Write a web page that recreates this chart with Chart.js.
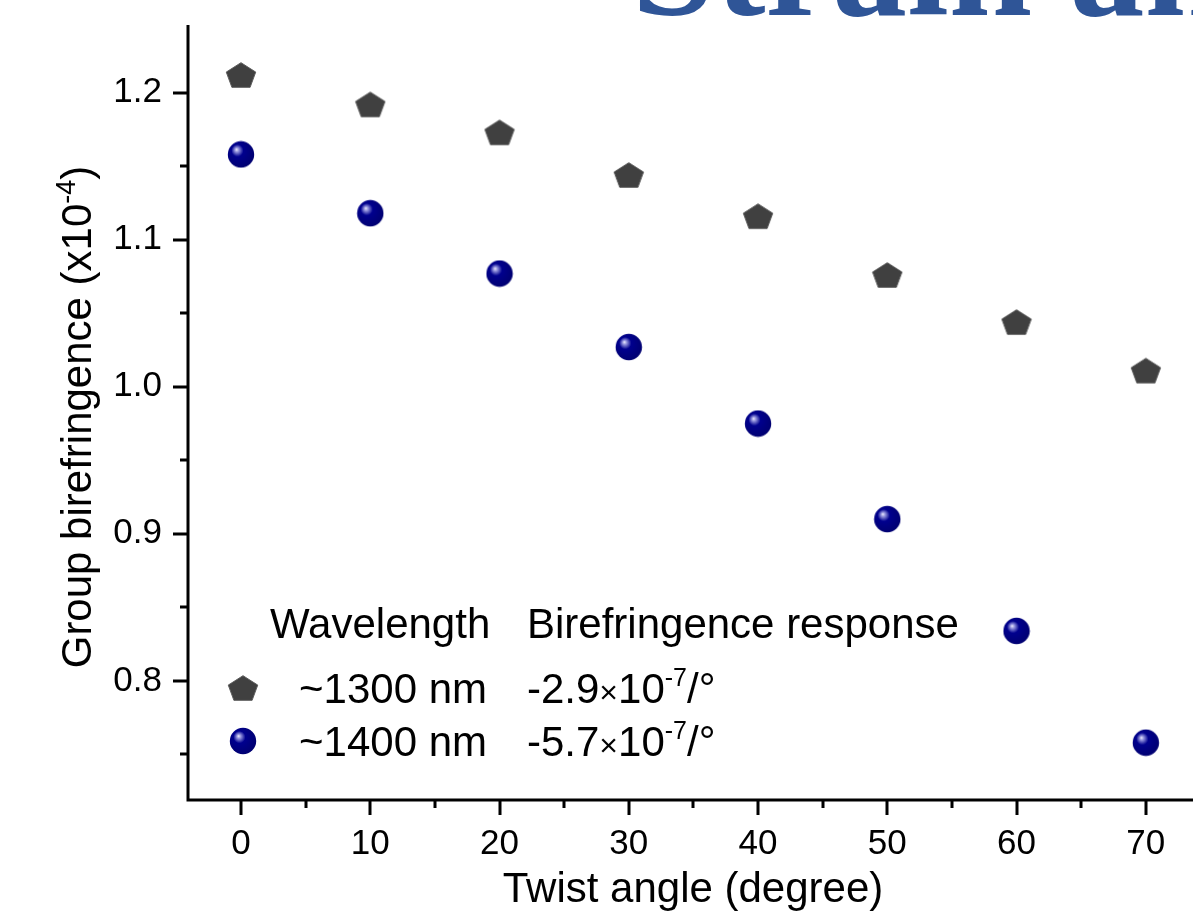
<!DOCTYPE html>
<html lang="en">
<head>
    <meta charset="UTF-8">
    <title>Group birefringence vs twist angle</title>
    <script src="https://cdn.jsdelivr.net/npm/chart.js"></script>
    <style>
        body { margin: 0; background: #fff; }
        #chart { display: block; }
    </style>
</head>
<body>
    <canvas id="chart" width="1193" height="916"></canvas>

    <script>
        // data
        const angles = [0, 10, 20, 30, 40, 50, 60, 70];
        const biref1300 = [1.212, 1.192, 1.173, 1.144, 1.116, 1.076, 1.044, 1.011];
        const biref1400 = [1.158, 1.118, 1.077, 1.027, 0.975, 0.910, 0.834, 0.758];

        const xTickValues = [0, 10, 20, 30, 40, 50, 60, 70];
        const xMinorValues = [5, 15, 25, 35, 45, 55, 65];
        const yTickValues = [0.8, 0.9, 1.0, 1.1, 1.2];
        const yTickLabels = ['0.8', '0.9', '1.0', '1.1', '1.2'];
        const yMinorValues = [0.75, 0.85, 0.95, 1.05, 1.15];

        const legendRows = [
            { label: '~1300 nm', coef: '-2.9' },
            { label: '~1400 nm', coef: '-5.7' }
        ];

        const FONT = '"Liberation Sans", Arial, sans-serif';
        const TITLE_SIZE = 42;

        // marker images
        function makePentagon() {
            const c = document.createElement('canvas');
            c.width = 32; c.height = 30;
            const g = c.getContext('2d');
            const R = 15.5;
            g.translate(16, 15 + 0.0955 * R * 0.88);
            g.scale(1, 0.88);
            g.beginPath();
            for (let k = 0; k < 5; k++) {
                const a = (-90 + k * 72) * Math.PI / 180;
                const px = R * Math.cos(a), py = R * Math.sin(a);
                if (k === 0) g.moveTo(px, py); else g.lineTo(px, py);
            }
            g.closePath();
            g.fillStyle = '#404040';
            g.fill();
            g.lineWidth = 1;
            g.strokeStyle = '#5a5a5a';
            g.stroke();
            return c;
        }

        function makeSphere() {
            const c = document.createElement('canvas');
            c.width = 28; c.height = 28;
            const g = c.getContext('2d');
            const grad = g.createRadialGradient(9.5, 9, 0, 12, 12, 16);
            grad.addColorStop(0, '#f0f0ff');
            grad.addColorStop(0.12, '#9a9ae0');
            grad.addColorStop(0.38, '#00008e');
            grad.addColorStop(1, '#000070');
            g.beginPath();
            g.arc(14, 14, 13.2, 0, Math.PI * 2);
            g.fillStyle = grad;
            g.fill();
            return c;
        }

        const pentagonImg = makePentagon();
        const sphereImg = makeSphere();

        // draws a row of text pieces, some of them superscripts
        function drawParts(ctx, parts, x, y) {
            parts.forEach((p) => {
                ctx.font = p.size + 'px ' + FONT;
                ctx.fillText(p.t, x, y - (p.up || 0));
                x += ctx.measureText(p.t).width;
            });
            return x;
        }

        function partsWidth(ctx, parts) {
            let w = 0;
            parts.forEach((p) => {
                ctx.font = p.size + 'px ' + FONT;
                w += ctx.measureText(p.t).width;
            });
            return w;
        }

        const decorPlugin = {
            id: 'decor',
            afterDraw(chart) {
                const ctx = chart.ctx;
                const area = chart.chartArea;
                const xs = chart.scales.x;
                const ys = chart.scales.y;
                ctx.save();

                // axis lines and ticks
                ctx.strokeStyle = '#000';
                ctx.lineWidth = 3;
                ctx.beginPath();
                ctx.moveTo(area.left, area.top);
                ctx.lineTo(area.left, area.bottom + 1.5);
                ctx.moveTo(area.left - 1.5, area.bottom);
                ctx.lineTo(area.right, area.bottom);
                ctx.stroke();

                ctx.beginPath();
                xTickValues.forEach((v) => {
                    const px = Math.round(xs.getPixelForValue(v));
                    ctx.moveTo(px, area.bottom); ctx.lineTo(px, area.bottom + 15);
                });
                xMinorValues.forEach((v) => {
                    const px = Math.round(xs.getPixelForValue(v));
                    ctx.moveTo(px, area.bottom); ctx.lineTo(px, area.bottom + 8);
                });
                yTickValues.forEach((v) => {
                    const py = Math.round(ys.getPixelForValue(v));
                    ctx.moveTo(area.left, py); ctx.lineTo(area.left - 15, py);
                });
                yMinorValues.forEach((v) => {
                    const py = Math.round(ys.getPixelForValue(v));
                    ctx.moveTo(area.left, py); ctx.lineTo(area.left - 8, py);
                });
                ctx.stroke();

                ctx.fillStyle = '#000';

                // x axis title
                ctx.font = TITLE_SIZE + 'px ' + FONT;
                ctx.textAlign = 'center';
                ctx.textBaseline = 'alphabetic';
                ctx.fillText('Twist angle (degree)', 693, 902);

                // y axis title with superscript
                const yParts = [
                    { t: 'Group birefringence (x10', size: TITLE_SIZE },
                    { t: '-4', size: 27, up: 16 },
                    { t: ')', size: TITLE_SIZE }
                ];
                ctx.save();
                ctx.translate(91, 417);
                ctx.rotate(-Math.PI / 2);
                ctx.textAlign = 'left';
                drawParts(ctx, yParts, -partsWidth(ctx, yParts) / 2, 0);
                ctx.restore();

                // legend table inside the plot
                ctx.textAlign = 'left';
                ctx.font = TITLE_SIZE + 'px ' + FONT;
                ctx.fillText('Wavelength', 270, 638);
                ctx.fillText('Birefringence response', 527, 638);
                const markers = [pentagonImg, sphereImg];
                legendRows.forEach((row, i) => {
                    const base = 703 + i * 53;
                    const img = markers[i];
                    ctx.drawImage(img, 243 - img.width / 2, base - 15 - img.height / 2);
                    ctx.font = TITLE_SIZE + 'px ' + FONT;
                    ctx.textAlign = 'right';
                    ctx.fillText(row.label, 487, base);
                    ctx.textAlign = 'left';
                    drawParts(ctx, [
                        { t: row.coef, size: TITLE_SIZE },
                        { t: '\u00d7', size: 32 },
                        { t: '10', size: TITLE_SIZE },
                        { t: '-7', size: 25, up: 17 },
                        { t: '/\u00b0', size: TITLE_SIZE }
                    ], 527, base);
                });

                // cropped heading above the chart
                ctx.font = 'bold 150px "Liberation Serif", serif';
                ctx.fillStyle = '#2F5597';
                ctx.textAlign = 'left';
                ctx.fillText('Strain and twist', 632, 15);

                ctx.restore();
            }
        };

        const ctx = document.getElementById('chart').getContext('2d');

        const chart = new Chart(ctx, {
            type: 'scatter',
            data: {
                datasets: [
                    {
                        label: '~1300 nm',
                        data: angles.map((a, i) => ({ x: a, y: biref1300[i] })),
                        pointStyle: pentagonImg,
                        pointRadius: 15,
                        pointHoverRadius: 15
                    },
                    {
                        label: '~1400 nm',
                        data: angles.map((a, i) => ({ x: a, y: biref1400[i] })),
                        pointStyle: sphereImg,
                        pointRadius: 14,
                        pointHoverRadius: 14
                    }
                ]
            },
            options: {
                responsive: false,
                devicePixelRatio: 1,
                animation: false,
                layout: { autoPadding: false, padding: { top: 25, right: 0, bottom: 0, left: 0 } },
                plugins: {
                    legend: { display: false },
                    tooltip: { enabled: false }
                },
                scales: {
                    x: {
                        type: 'linear',
                        min: -4.1,
                        max: 73.65,
                        afterBuildTicks: (s) => { s.ticks = xTickValues.map((v) => ({ value: v })); },
                        afterFit: (s) => {
                            s.height = 116;
                            s.paddingLeft = 0;
                            s.paddingRight = 0;
                        },
                        grid: { display: false, drawTicks: false },
                        border: { display: false },
                        ticks: {
                            font: { family: FONT, size: 35 },
                            color: '#000',
                            padding: 23,
                            maxRotation: 0,
                            autoSkip: false
                        }
                    },
                    y: {
                        type: 'linear',
                        min: 0.719,
                        max: 1.246,
                        afterBuildTicks: (s) => { s.ticks = yTickValues.map((v) => ({ value: v })); },
                        afterFit: (s) => {
                            s.width = 188;
                            s.paddingTop = 0;
                            s.paddingBottom = 0;
                        },
                        grid: { display: false, drawTicks: false },
                        border: { display: false },
                        ticks: {
                            font: { family: FONT, size: 35 },
                            color: '#000',
                            padding: 26,
                            autoSkip: false,
                            callback: (v) => yTickLabels[yTickValues.findIndex((t) => Math.abs(t - v) < 1e-6)]
                        }
                    }
                }
            },
            plugins: [decorPlugin]
        });
    </script>
</body>
</html>
